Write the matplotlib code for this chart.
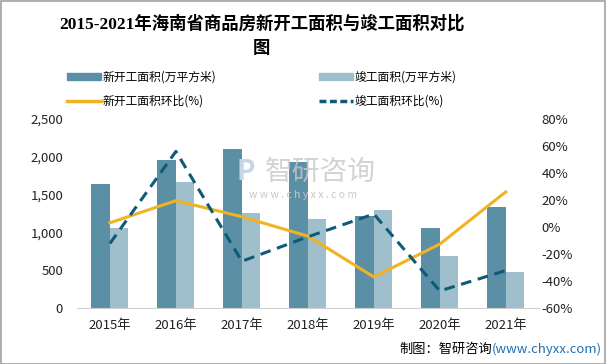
import numpy as np
import matplotlib.pyplot as plt
from matplotlib.lines import Line2D
from matplotlib.patches import Patch, Rectangle

plt.rcParams['font.family'] = ['Noto Sans CJK SC', 'DejaVu Sans']

years = ['2015年', '2016年', '2017年', '2018年', '2019年', '2020年', '2021年']
new_area = [1640, 1958, 2103, 1931, 1217, 1058, 1336]
done_area = [1058, 1667, 1257, 1177, 1296, 688, 476]
new_rate = [3.1, 19.5, 7.6, -6.8, -37.0, -12.7, 26.0]
done_rate = [-12.2, 56.0, -25.4, -7.3, 9.6, -47.4, -32.3]

c_new = '#5b8fa6'
c_done = '#a0bfcc'
c_yellow = '#f0b323'
c_dash = '#0f5a78'

fig = plt.figure(figsize=(6.06, 3.64), dpi=100)
fig.patches.append(Rectangle((0.001, 0.001), 0.997, 0.996, transform=fig.transFigure,
                             fill=False, edgecolor='#a0a0a0', lw=1.2))

ax = fig.add_axes([0.127, 0.154, 0.762, 0.519])
x = np.arange(len(years))
w = 0.28
ax.bar(x - w / 2, new_area, w, color=c_new, zorder=2)
ax.bar(x + w / 2, done_area, w, color=c_done, zorder=2)
ax.set_ylim(0, 2500)
ax.set_yticks(range(0, 2501, 500))
ax.set_yticklabels([f'{v:,}' for v in range(0, 2501, 500)])
ax.set_xlim(-0.5, len(years) - 0.5)
ax.set_xticks(x)
ax.set_xticklabels(years)
for s in ['top', 'right', 'left']:
    ax.spines[s].set_visible(False)
ax.spines['bottom'].set_color('#d0d0d0')
ax.tick_params(axis='both', length=0, labelsize=9.5, colors='#222222')
ax.tick_params(axis='x', pad=8)
ax.tick_params(axis='y', pad=10)

ax2 = ax.twinx()
ax2.plot(x, new_rate, color=c_yellow, lw=2.2, zorder=3)
ax2.plot(x, done_rate, color=c_dash, lw=2.2, ls=(0, (3.5, 2.2)), zorder=3)
ax2.set_ylim(-60, 80)
ax2.set_yticks(range(-60, 81, 20))
ax2.set_yticklabels([f'{v}%' for v in range(-60, 81, 20)])
for s in ax2.spines.values():
    s.set_visible(False)
ax2.tick_params(axis='y', length=0, labelsize=9.5, colors='#222222', pad=2)

# watermark
fig.text(0.528, 0.527, '智研咨询', fontsize=20, color='#c8c8c8', alpha=0.8,
         ha='center', va='center', zorder=0)
fig.text(0.50, 0.464, 'w w w . c h y x x . c o m', fontsize=7.5, color='#c8c8c8',
         ha='center', va='center')
fig.text(0.405, 0.527, 'P', fontsize=20, fontweight='bold', color='#c5d6e6',
         ha='center', va='center')

tfam = ['Liberation Serif', 'Noto Sans CJK SC']
fig.text(0.432, 0.935, '2015-2021年海南省商品房新开工面积与竣工面积对比',
         fontsize=12.5, fontweight='bold', ha='center', va='center', family=tfam)
fig.text(0.432, 0.865, '图', fontsize=12.5, fontweight='bold', ha='center',
         va='center', family=tfam)

handles = [Patch(color=c_new), Line2D([], [], color=c_yellow, lw=2.5),
           Patch(color=c_done), Line2D([], [], color=c_dash, lw=2.5, ls=(0, (2, 1)))]
labels = ['新开工面积(万平方米)', '新开工面积环比(%)', '竣工面积(万平方米)', '竣工面积环比(%)']
fig.legend(handles, labels, loc='upper left', bbox_to_anchor=(0.093, 0.835), ncol=2,
           frameon=False, fontsize=8.5, columnspacing=8.65, handlelength=2.9,
           handleheight=0.5, handletextpad=0.15, labelspacing=0.9)

fig.text(492 / 606, 0.04, '制图：智研咨询', fontsize=9.5, ha='right', va='center')
fig.text(492 / 606, 0.04, '(www.chyxx.com)', fontsize=9.5, ha='left', va='center',
         color='#1f6fb5')

fig.savefig('out.png', dpi=100)
